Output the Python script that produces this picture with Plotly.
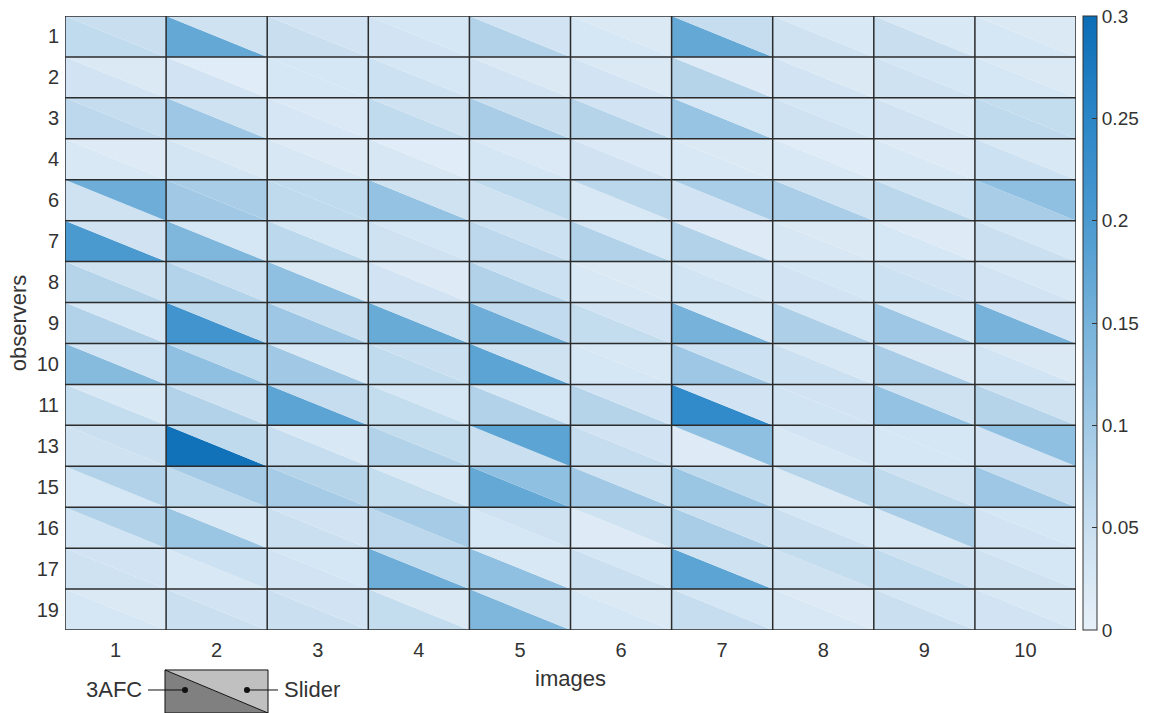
import plotly.graph_objects as go
from plotly.colors import sample_colorscale

# Row / column labels
observers = ["1", "2", "3", "4", "6", "7", "8", "9", "10", "11", "13", "15", "16", "17", "19"]
images = [1, 2, 3, 4, 5, 6, 7, 8, 9, 10]

# Error per observer (rows) and image (columns), 3AFC method
afc = [
    [0.060, 0.170, 0.050, 0.035, 0.080, 0.030, 0.170, 0.040, 0.050, 0.030],  # 1
    [0.035, 0.035, 0.030, 0.045, 0.035, 0.035, 0.075, 0.035, 0.040, 0.030],  # 2
    [0.065, 0.105, 0.028, 0.060, 0.090, 0.075, 0.110, 0.040, 0.037, 0.062],  # 3
    [0.025, 0.033, 0.026, 0.026, 0.032, 0.037, 0.025, 0.025, 0.025, 0.045],  # 4
    [0.040, 0.100, 0.062, 0.115, 0.040, 0.025, 0.035, 0.088, 0.068, 0.090],  # 6
    [0.200, 0.140, 0.066, 0.040, 0.065, 0.080, 0.080, 0.026, 0.030, 0.048],  # 7
    [0.075, 0.078, 0.120, 0.035, 0.080, 0.025, 0.036, 0.035, 0.045, 0.035],  # 8
    [0.080, 0.215, 0.105, 0.165, 0.160, 0.057, 0.150, 0.085, 0.105, 0.150],  # 9
    [0.130, 0.120, 0.100, 0.060, 0.180, 0.030, 0.105, 0.046, 0.090, 0.036],  # 10
    [0.057, 0.080, 0.180, 0.057, 0.080, 0.075, 0.240, 0.036, 0.115, 0.075],  # 11
    [0.040, 0.290, 0.055, 0.080, 0.048, 0.055, 0.015, 0.025, 0.030, 0.035],  # 13
    [0.030, 0.062, 0.095, 0.057, 0.170, 0.100, 0.108, 0.020, 0.062, 0.105],  # 15
    [0.036, 0.108, 0.048, 0.065, 0.030, 0.015, 0.090, 0.048, 0.025, 0.035],  # 16
    [0.040, 0.025, 0.035, 0.160, 0.120, 0.048, 0.180, 0.040, 0.060, 0.040],  # 17
    [0.030, 0.048, 0.048, 0.057, 0.140, 0.030, 0.055, 0.025, 0.048, 0.035],  # 19
]

# Error per observer (rows) and image (columns), Slider method
slider = [
    [0.050, 0.040, 0.035, 0.030, 0.035, 0.020, 0.055, 0.025, 0.025, 0.020],  # 1
    [0.020, 0.012, 0.030, 0.030, 0.020, 0.020, 0.015, 0.020, 0.030, 0.020],  # 2
    [0.055, 0.040, 0.022, 0.040, 0.050, 0.035, 0.030, 0.030, 0.025, 0.057],  # 3
    [0.015, 0.020, 0.015, 0.012, 0.022, 0.022, 0.020, 0.012, 0.015, 0.025],  # 4
    [0.160, 0.090, 0.060, 0.040, 0.062, 0.068, 0.088, 0.040, 0.036, 0.120],  # 6
    [0.037, 0.030, 0.030, 0.030, 0.045, 0.030, 0.015, 0.020, 0.015, 0.030],  # 7
    [0.040, 0.046, 0.020, 0.015, 0.045, 0.020, 0.025, 0.030, 0.035, 0.025],  # 8
    [0.030, 0.062, 0.048, 0.040, 0.058, 0.035, 0.025, 0.030, 0.025, 0.035],  # 9
    [0.036, 0.060, 0.025, 0.048, 0.040, 0.025, 0.045, 0.025, 0.020, 0.020],  # 10
    [0.025, 0.040, 0.055, 0.030, 0.030, 0.035, 0.035, 0.035, 0.040, 0.040],  # 11
    [0.048, 0.062, 0.025, 0.057, 0.180, 0.035, 0.120, 0.035, 0.030, 0.120],  # 13
    [0.080, 0.095, 0.075, 0.025, 0.120, 0.040, 0.062, 0.075, 0.040, 0.055],  # 15
    [0.080, 0.025, 0.035, 0.095, 0.040, 0.040, 0.048, 0.030, 0.090, 0.030],  # 16
    [0.035, 0.045, 0.030, 0.060, 0.025, 0.030, 0.040, 0.057, 0.040, 0.030],  # 17
    [0.020, 0.035, 0.035, 0.020, 0.040, 0.020, 0.030, 0.015, 0.030, 0.025],  # 19
]

cbar_ticks = [0, 0.05, 0.1, 0.15, 0.2, 0.25, 0.3]
CMIN, CMAX = 0.0, 0.3

blues = [
    [0.0, "rgb(231,240,249)"],
    [1 / 6, "rgb(201,223,240)"],
    [1 / 3, "rgb(161,201,229)"],
    [0.5, "rgb(118,178,218)"],
    [2 / 3, "rgb(74,154,208)"],
    [5 / 6, "rgb(43,134,199)"],
    [1.0, "rgb(10,109,182)"],
]

FONT = "Liberation Sans, Arial, sans-serif"
TXT = "#333333"


def to_color(v):
    t = min(max((v - CMIN) / (CMAX - CMIN), 0.0), 1.0)
    return sample_colorscale(blues, [t])[0]


fig = go.Figure()

# Each cell is split along its diagonal: lower-left = 3AFC, upper-right = Slider
for i, obs in enumerate(observers):
    for j, img in enumerate(images):
        x0, x1 = img - 0.5, img + 0.5
        y0, y1 = i - 0.5, i + 0.5
        tri = {
            "3AFC": ([x0, x0, x1, x0], [y0, y1, y1, y0], afc[i][j]),
            "Slider": ([x0, x1, x1, x0], [y0, y0, y1, y0], slider[i][j]),
        }
        for method, (xs, ys, v) in tri.items():
            fig.add_trace(go.Scatter(
                x=xs, y=ys, mode="lines", fill="toself",
                fillcolor=to_color(v), line=dict(width=0),
                hoveron="fills", showlegend=False,
                name=f"{method}: obs {obs}, img {img} = {v:.3f}",
            ))

# Cell borders
gx, gy = [], []
for k in range(len(images) + 1):
    gx += [k + 0.5, k + 0.5, None]
    gy += [-0.5, len(observers) - 0.5, None]
for k in range(len(observers) + 1):
    gx += [0.5, len(images) + 0.5, None]
    gy += [k - 0.5, k - 0.5, None]
fig.add_trace(go.Scatter(x=gx, y=gy, mode="lines",
                         line=dict(color="#2b2b2b", width=1.5),
                         hoverinfo="skip", showlegend=False))

# Colour bar carrier
fig.add_trace(go.Scatter(
    x=[1, 1], y=[0, 0], mode="markers", hoverinfo="skip", showlegend=False,
    marker=dict(size=0.1, opacity=0, color=[CMIN, CMAX], cmin=CMIN, cmax=CMAX,
                colorscale=blues, showscale=True,
                colorbar=dict(
                    x=1.0069, xanchor="left", xpad=0, y=0.5, yanchor="middle",
                    len=1, lenmode="fraction", ypad=0, thickness=14,
                    outlinecolor="#333333", outlinewidth=1,
                    tickvals=cbar_ticks, ticktext=[f"{t:g}" for t in cbar_ticks],
                    ticks="inside", ticklen=5, tickcolor="#333333",
                    tickfont=dict(family=FONT, size=19, color=TXT),
                )),
))

fig.update_xaxes(
    range=[0.5, len(images) + 0.5], tickvals=images,
    ticktext=[str(v) for v in images], showgrid=False, zeroline=False,
    ticks="", ticklabelstandoff=6,
    tickfont=dict(family=FONT, size=20, color=TXT),
    title=dict(text="images", font=dict(family=FONT, size=22, color=TXT), standoff=10),
)
fig.update_yaxes(
    range=[len(observers) - 0.5, -0.5], tickvals=list(range(len(observers))),
    ticktext=observers, showgrid=False, zeroline=False, ticks="",
    ticklabelstandoff=5,
    tickfont=dict(family=FONT, size=20, color=TXT),
    title=dict(text="observers", font=dict(family=FONT, size=22, color=TXT), standoff=4),
)

# Legend glyph explaining the split cells
lx0, lx1 = 0.0989, 0.2008
ly0, ly1 = -0.0651, -0.1352
ly_mid = -0.0977
shapes = [
    dict(type="path", xref="paper", yref="paper",
         path=f"M {lx0} {ly0} L {lx0} {ly1} L {lx1} {ly1} Z",
         fillcolor="#808080", line=dict(width=0)),
    dict(type="path", xref="paper", yref="paper",
         path=f"M {lx0} {ly0} L {lx1} {ly0} L {lx1} {ly1} Z",
         fillcolor="#c0c0c0", line=dict(width=0)),
    dict(type="rect", xref="paper", yref="paper", x0=lx0, x1=lx1, y0=ly1, y1=ly0,
         line=dict(color="#111111", width=1)),
    dict(type="line", xref="paper", yref="paper", x0=lx0, x1=lx1, y0=ly0, y1=ly1,
         line=dict(color="#111111", width=1)),
    dict(type="line", xref="paper", yref="paper", x0=0.0821, x1=0.1187,
         y0=ly_mid, y1=ly_mid, line=dict(color="#111111", width=1)),
    dict(type="line", xref="paper", yref="paper", x0=0.1800, x1=0.2107,
         y0=ly_mid, y1=ly_mid, line=dict(color="#111111", width=1)),
    dict(type="circle", xref="paper", yref="paper",
         x0=0.1187 - 0.0030, x1=0.1187 + 0.0030, y0=ly_mid - 0.0049, y1=ly_mid + 0.0049,
         fillcolor="#111111", line=dict(width=0)),
    dict(type="circle", xref="paper", yref="paper",
         x0=0.1800 - 0.0030, x1=0.1800 + 0.0030, y0=ly_mid - 0.0049, y1=ly_mid + 0.0049,
         fillcolor="#111111", line=dict(width=0)),
]

fig.update_layout(
    width=1149, height=713,
    margin=dict(l=65, r=73, t=16, b=83, autoexpand=False),
    paper_bgcolor="white", plot_bgcolor="white",
    font=dict(family=FONT, color=TXT),
    shapes=shapes,
    annotations=[
        dict(text="3AFC", xref="paper", yref="paper", x=0.0781, y=ly_mid,
             xanchor="right", yanchor="middle", showarrow=False,
             font=dict(family=FONT, size=22, color=TXT)),
        dict(text="Slider", xref="paper", yref="paper", x=0.2147, y=ly_mid,
             xanchor="left", yanchor="middle", showarrow=False,
             font=dict(family=FONT, size=22, color=TXT)),
    ],
)

fig.write_html("out.html")
